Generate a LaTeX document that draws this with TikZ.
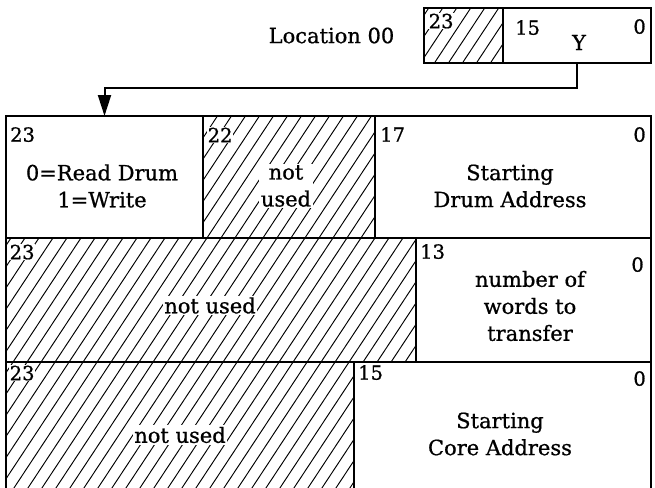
\documentclass[tikz,border=0pt]{standalone}
\usepackage{fontspec}
\setmainfont{DejaVu Serif}[FakeBold=0.8]
\usetikzlibrary{arrows.meta}
\newcommand\hatchfield[1]{%
  \begin{scope}
    \clip (#1.north west) rectangle (#1.south east);
    \foreach \c in {0,14,...,1050} \draw[hatchline] (\c,0) -- (\c-330,500);
  \end{scope}}
\begin{document}
\begin{tikzpicture}[x=1pt,y=-1pt,
  field/.style={draw, line width=2.1pt, rectangle, inner sep=0pt, outer sep=0pt},
  txt/.style={font=\fontsize{21}{27}\selectfont, align=center, inner sep=1.5pt},
  bits/.style={font=\fontsize{19.5}{22}\selectfont, inner sep=0pt},
  hatchline/.style={line width=0.95pt},
  conn/.style={line width=2pt, -{Triangle[length=21pt,width=13pt]}}]
\useasboundingbox (0,0) rectangle (655,487);

% fields
\node[field, minimum width=79pt, minimum height=55pt] (H) at (463.5,35.5) {};
\node[field, minimum width=148pt, minimum height=55pt] (I) at (577,35.5) {};
\node[field, minimum width=197pt, minimum height=122pt] (A) at (104.5,177) {};
\node[field, minimum width=172pt, minimum height=122pt] (B) at (289,177) {};
\node[field, minimum width=276pt, minimum height=122pt] (C) at (513,177) {};
\node[field, minimum width=410pt, minimum height=124pt] (D) at (211,300) {};
\node[field, minimum width=235pt, minimum height=124pt] (E) at (533.5,300) {};
\node[field, minimum width=348pt, minimum height=130pt] (F) at (180,427) {};
\node[field, minimum width=297pt, minimum height=130pt] (G) at (502.5,427) {};

% hatching
\hatchfield{H}
\hatchfield{B}
\hatchfield{D}
\hatchfield{F}
\foreach \f in {H,I,A,B,C,D,E,F,G} \draw[line width=2.1pt] (\f.north west) rectangle (\f.south east);

% top labels
\node[txt] (loc) at (331.5,35.5) {Location 00};
\node[bits, anchor=north west, fill=white, inner sep=0.5pt] (h23) at (428,13) {23};
\node[bits, anchor=north west] (i15) at (515,20) {15};
\node[bits, anchor=north east] (i0) at (646,19) {0};
\node[txt] (y) at (579,42.5) {Y};

% row 1
\node[bits, anchor=north west] (a23) at (10,127) {23};
\node[bits, anchor=north west, fill=white, inner sep=0.5pt] (b22) at (207,127) {22};
\node[bits, anchor=north west] (c17) at (380,127) {17};
\node[bits, anchor=north east] (c0) at (646,127) {0};
\node[txt] (ta) at (102,186) {0=Read Drum\\1=Write};
\node[txt, fill=white] (tb) at (286,186) {not\\used};
\node[txt] (tc) at (510,186) {Starting\\Drum Address};

% row 2
\node[bits, anchor=north west, fill=white, inner sep=0.5pt] (d23) at (9,244) {23};
\node[bits, anchor=north west] (e13) at (420,244) {13};
\node[bits, anchor=north east] (e0) at (644,257) {0};
\node[txt, fill=white] (td) at (210,305.5) {not used};
\node[txt] (te) at (530,306) {number of\\words to\\transfer};

% row 3
\node[bits, anchor=north west, fill=white, inner sep=0.5pt] (f23) at (9,365) {23};
\node[bits, anchor=north west] (g15) at (358,365) {15};
\node[bits, anchor=north east] (g0) at (646,371) {0};
\node[txt, fill=white] (tf) at (180,435) {not used};
\node[txt] (tg) at (500,434) {Starting\\Core Address};

% connector
\draw[conn] (I.south) -- ++(0,25) -| (A.north);
\end{tikzpicture}
\end{document}
